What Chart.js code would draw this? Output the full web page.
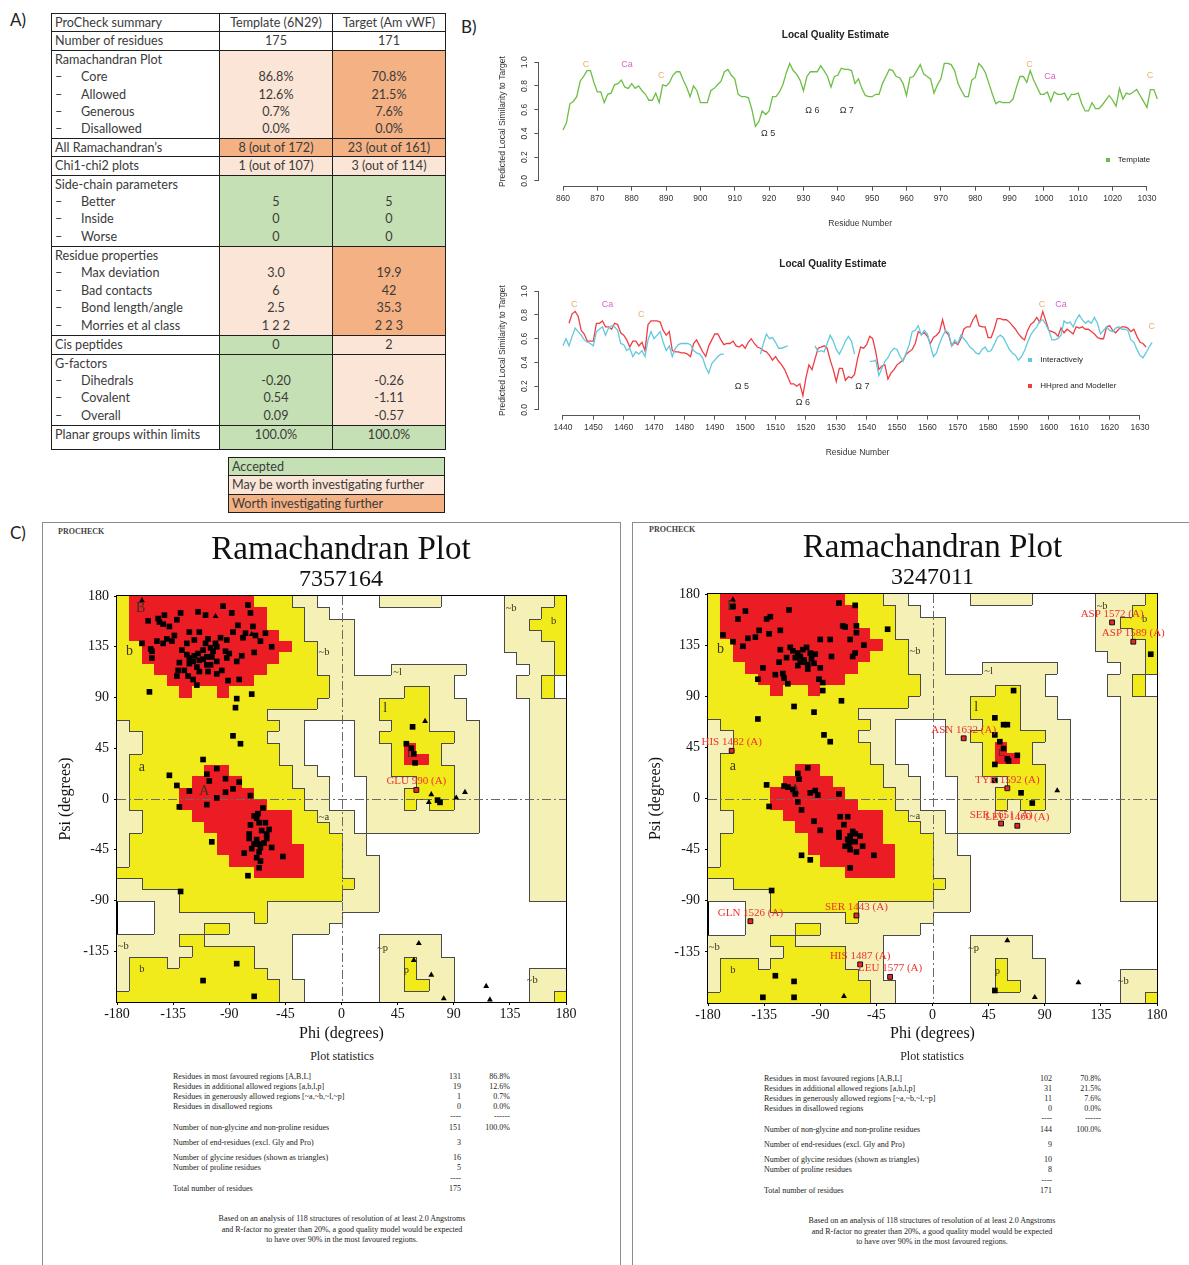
<!DOCTYPE html>
<html>
<head>
<meta charset="utf-8">
<title>ProCheck and local quality summary</title>
<script src="https://cdn.jsdelivr.net/npm/chart.js@4.4.0/dist/chart.umd.min.js"></script>
<style>
  html, body { margin: 0; padding: 0; background: #fff; }
  #page { position: relative; width: 1189px; height: 1265px; overflow: hidden; background: #fff; }
  canvas { position: absolute; }
  .letter { position: absolute; font-family: Lato, 'Open Sans', sans-serif; font-size: 17px; color: #222; line-height: 20px; }
  table.pc { position: absolute; border-collapse: collapse; table-layout: fixed; font-family: Lato, 'Open Sans', sans-serif; font-size: 12.6px; color: #3b3b3b; }
  table.pc td { border: 1.5px solid #1e1e1e; padding: 0 0 0 3px; vertical-align: top; line-height: 17.4px; white-space: nowrap; overflow: hidden; }
  table.pc td.c { text-align: center; padding: 0; }
  table.pc td.m { vertical-align: middle; }
  .gr { background: #C5E0B4; }
  .pe { background: #FBE5D6; }
  .or { background: #F4B183; }
  .d { display: inline-block; width: 26px; }
  .panel { position: absolute; border: 1.5px solid #8c8c8c; box-sizing: border-box; }
  .pcheck { position: absolute; font-family: 'Liberation Serif', serif; font-weight: bold; font-size: 8px; color: #444; }
  .stat { position: absolute; font-family: 'Liberation Serif', serif; font-size: 8px; color: #222; line-height: 10px; white-space: nowrap; }
  .stitle { position: absolute; font-family: 'Liberation Serif', serif; font-size: 12px; color: #222; white-space: nowrap; transform: translate(-50%, -50%); }
  .foot { position: absolute; font-family: 'Liberation Serif', serif; font-size: 8px; color: #222; line-height: 10.5px; text-align: center; white-space: nowrap; transform: translateX(-50%); }
</style>
</head>
<body>
<div id="page">
  <div class="letter" style="left:10px; top:10px;">A)</div>
  <div class="letter" style="left:461px; top:17px;">B)</div>
  <div class="letter" style="left:10px; top:523px;">C)</div>

  <table class="pc" style="left:51px; top:13px; width:394px;">
    <colgroup><col style="width:168px"><col style="width:113px"><col style="width:113px"></colgroup>
    <tr style="height:17.6px"><td class="m">ProCheck summary</td><td class="c m">Template (6N29)</td><td class="c m">Target (Am vWF)</td></tr>
    <tr style="height:17.2px"><td class="m">Number of residues</td><td class="c m">175</td><td class="c m">171</td></tr>
    <tr style="height:88px"><td>Ramachandran Plot<br><span class="d">–</span>Core<br><span class="d">–</span>Allowed<br><span class="d">–</span>Generous<br><span class="d">–</span>Disallowed</td><td class="c pe"><br>86.8%<br>12.6%<br>0.7%<br>0.0%</td><td class="c or"><br>70.8%<br>21.5%<br>7.6%<br>0.0%</td></tr>
    <tr style="height:17.6px"><td class="m">All Ramachandran’s</td><td class="c m or">8 (out of 172)</td><td class="c m or">23 (out of 161)</td></tr>
    <tr style="height:17.3px"><td class="m">Chi1-chi2 plots</td><td class="c m pe">1 (out of 107)</td><td class="c m pe">3 (out of 114)</td></tr>
    <tr style="height:71.4px"><td>Side-chain parameters<br><span class="d">–</span>Better<br><span class="d">–</span>Inside<br><span class="d">–</span>Worse</td><td class="c gr"><br>5<br>0<br>0</td><td class="c gr"><br>5<br>0<br>0</td></tr>
    <tr style="height:89.2px"><td>Residue properties<br><span class="d">–</span>Max deviation<br><span class="d">–</span>Bad contacts<br><span class="d">–</span>Bond length/angle<br><span class="d">–</span>Morries et al class</td><td class="c pe"><br>3.0<br>6<br>2.5<br>1 2 2</td><td class="c or"><br>19.9<br>42<br>35.3<br>2 2 3</td></tr>
    <tr style="height:17.3px"><td class="m">Cis peptides</td><td class="c m gr">0</td><td class="c m pe">2</td></tr>
    <tr style="height:71px"><td>G-factors<br><span class="d">–</span>Dihedrals<br><span class="d">–</span>Covalent<br><span class="d">–</span>Overall</td><td class="c gr"><br>-0.20<br>0.54<br>0.09</td><td class="c pe"><br>-0.26<br>-1.11<br>-0.57</td></tr>
    <tr style="height:24.3px"><td>Planar groups within limits</td><td class="c gr">100.0%</td><td class="c gr">100.0%</td></tr>
  </table>

  <table class="pc" style="left:228px; top:457px; width:217px;">
    <tr style="height:17.4px"><td class="m gr">Accepted</td></tr>
    <tr style="height:17.4px"><td class="m pe">May be worth investigating further</td></tr>
    <tr style="height:17.4px"><td class="m or">Worth investigating further</td></tr>
  </table>

  <canvas id="qTemplate" width="699" height="225" style="left:490px; top:20px;"></canvas>
  <canvas id="qTarget" width="699" height="225" style="left:490px; top:249px;"></canvas>

  <div class="panel" style="left:42px; top:522px; width:579px; height:780px;"></div>
  <div class="panel" style="left:632px; top:522px; width:580px; height:780px;"></div>
  <div class="pcheck" style="left:58px; top:527px;">PROCHECK</div>
  <div class="pcheck" style="left:649px; top:525px;">PROCHECK</div>

  <canvas id="ramaTemplate" width="598" height="525" style="left:42px; top:522px;"></canvas>
  <canvas id="ramaTarget" width="601" height="525" style="left:632px; top:522px;"></canvas>

  <div id="statsLeft"></div>
  <div id="statsRight"></div>
</div>

<script>
// ---------------- Local quality estimate (per-residue scores) ----------------
const templateStart = 860;
const templateScore = [
  0.43, 0.49, 0.65, 0.67, 0.71, 0.84, 0.88, 0.93, 0.93, 0.83,
  0.75, 0.75, 0.66, 0.73, 0.74, 0.81, 0.82, 0.85, 0.79, 0.78,
  0.82, 0.78, 0.80, 0.76, 0.73, 0.68, 0.68, 0.74, 0.66, 0.81,
  0.80, 0.83, 0.89, 0.92, 0.92, 0.85, 0.79, 0.71, 0.80, 0.76,
  0.66, 0.66, 0.66, 0.76, 0.78, 0.81, 0.84, 0.92, 0.94, 0.89,
  0.86, 0.73, 0.71, 0.71, 0.70, 0.60, 0.46, 0.50, 0.59, 0.56,
  0.59, 0.71, 0.71, 0.75, 0.81, 0.91, 0.99, 0.93, 0.90, 0.85,
  0.76, 0.88, 0.92, 0.92, 0.92, 0.97, 0.93, 0.88, 0.79, 0.88,
  0.89, 0.95, 0.94, 0.94, 0.93, 0.82, 0.86, 0.78, 0.72, 0.71,
  0.71, 0.73, 0.73, 0.82, 0.88, 0.94, 0.93, 0.88, 0.87, 0.82,
  0.72, 0.87, 0.88, 0.93, 0.98, 0.90, 0.88, 0.86, 0.74, 0.81,
  0.86, 0.99, 0.99, 0.98, 0.93, 0.82, 0.76, 0.71, 0.71, 0.85,
  0.87, 0.99, 0.96, 0.91, 0.82, 0.73, 0.65, 0.67, 0.66, 0.66,
  0.66, 0.69, 0.79, 0.88, 0.88, 0.83, 0.93, 0.85, 0.79, 0.73,
  0.73, 0.75, 0.67, 0.75, 0.73, 0.73, 0.74, 0.68, 0.73, 0.73,
  0.74, 0.65, 0.59, 0.59, 0.66, 0.61, 0.61, 0.64, 0.68, 0.72,
  0.68, 0.63, 0.78, 0.69, 0.74, 0.73, 0.75, 0.77, 0.72, 0.67,
  0.62, 0.77, 0.77, 0.69
];

const targetStart = 1440;
const interactiveScore = [
  0.54, 0.60, 0.54, 0.62, 0.69, 0.66, 0.63, 0.59, 0.57, 0.56,
  0.54, 0.66, 0.68, 0.70, 0.63, 0.69, 0.71, 0.70, 0.67, 0.56,
  0.55, 0.50, 0.52, 0.45, 0.49, 0.47, 0.50, 0.45, 0.59, 0.66,
  0.60, 0.63, 0.66, 0.57, 0.50, 0.54, 0.45, 0.52, 0.55, 0.56,
  0.56, 0.56, 0.55, 0.50, 0.48, 0.47, 0.44, 0.36, 0.31, 0.39,
  0.42, 0.45, 0.47, 0.47, null, null, null, null, null, null,
  null, null, null, null, null, 0.47, 0.56, 0.64, 0.60, 0.61,
  0.57, 0.52, 0.52, 0.53, 0.54, null, null, null, null, null,
  null, null, null, 0.54, 0.49, 0.50, 0.49, 0.56, 0.63, 0.58,
  0.51, 0.47, 0.52, 0.58, 0.62, 0.58, 0.47, null, null, null,
  null, 0.41, 0.41, 0.42, 0.29, 0.35, 0.41, 0.44, 0.49, 0.52,
  0.51, 0.45, 0.41, 0.48, 0.55, 0.66, 0.67, 0.71, 0.63, 0.67,
  0.64, 0.54, 0.45, 0.48, 0.56, 0.62, 0.67, 0.65, 0.54, 0.59,
  0.56, 0.63, 0.60, 0.57, 0.53, 0.51, 0.48, 0.47, 0.51, 0.53,
  0.49, 0.50, 0.55, 0.61, 0.63, 0.61, 0.56, 0.51, 0.48, 0.46,
  0.42, 0.45, 0.50, 0.57, 0.63, 0.67, 0.70, 0.75, 0.76, 0.72,
  0.67, 0.59, 0.59, 0.60, 0.63, 0.75, 0.73, 0.74, 0.70, 0.76,
  0.80, 0.76, 0.73, 0.75, 0.73, 0.78, 0.73, 0.64, 0.67, 0.70,
  0.67, 0.66, 0.69, 0.70, 0.68, 0.68, 0.67, 0.59, 0.57, 0.51,
  0.46, 0.44, 0.48, 0.53, 0.57
];
const hhpredScore = [
  null, null, 0.73, 0.81, 0.83, 0.79, 0.67, 0.64, 0.58, 0.58,
  0.58, 0.73, 0.73, 0.75, 0.70, 0.70, 0.68, 0.73, 0.72, 0.65,
  0.63, 0.59, 0.53, 0.58, 0.58, 0.54, 0.57, 0.50, 0.72, 0.75,
  0.75, 0.75, 0.74, 0.67, 0.63, 0.66, 0.50, 0.49, 0.49, 0.48,
  0.48, 0.47, 0.45, 0.56, 0.59, 0.54, 0.49, 0.45, 0.54, 0.59,
  0.64, 0.64, 0.59, 0.55, 0.56, 0.56, 0.58, 0.54, 0.53, 0.55,
  0.52, 0.57, 0.60, 0.56, 0.53, 0.52, 0.50, 0.49, 0.46, 0.42,
  0.45, 0.41, 0.38, 0.34, 0.28, 0.22, 0.22, 0.20, 0.22, 0.12,
  0.27, 0.38, 0.34, 0.43, 0.52, 0.53, 0.54, 0.52, 0.42, 0.34,
  0.24, 0.35, 0.35, 0.25, 0.28, 0.27, 0.30, 0.43, 0.53, 0.52,
  0.55, 0.62, 0.60, 0.49, 0.34, 0.37, 0.38, 0.26, 0.31, 0.34,
  0.38, 0.40, 0.42, 0.47, 0.49, 0.51, 0.56, 0.66, 0.64, 0.65,
  0.62, 0.56, 0.61, 0.63, 0.66, 0.76, 0.66, 0.63, 0.54, 0.57,
  0.55, 0.60, 0.68, 0.70, 0.70, 0.76, 0.80, 0.71, 0.70, 0.70,
  0.61, 0.61, 0.68, 0.77, 0.77, 0.76, 0.76, 0.74, 0.71, 0.68,
  0.64, 0.61, 0.59, 0.67, 0.72, 0.74, 0.78, 0.74, 0.83, 0.75,
  0.67, 0.66, 0.65, 0.62, 0.69, 0.65, 0.68, 0.66, 0.64, 0.70,
  0.69, 0.70, 0.68, 0.68, 0.66, 0.64, 0.61, 0.60, 0.60, 0.70,
  0.71, 0.67, 0.65, 0.68, 0.70, 0.70, 0.69, 0.66, 0.68, 0.62,
  0.57, 0.56, 0.53, null, null
];

const templateTicks = [860, 870, 880, 890, 900, 910, 920, 930, 940, 950, 960, 970, 980, 990, 1000, 1010, 1020, 1030];
const targetTicks = [1440, 1450, 1460, 1470, 1480, 1490, 1500, 1510, 1520, 1530, 1540, 1550, 1560, 1570, 1580, 1590, 1600, 1610, 1620, 1630];
const scoreTicks = [0, 0.2, 0.4, 0.6, 0.8, 1.0];

// domain / loop annotations: [text, residue, score]
const templateCys = [['C', 866.7, 0.98], ['C', 888.6, 0.89], ['C', 995.8, 0.98], ['C', 1030.9, 0.89]];
const templateCa = [['Ca', 878.6, 0.98], ['Ca', 1001.8, 0.88]];
const templateLoops = [['Ω 5', 919.7, 0.40], ['Ω 6', 932.6, 0.59], ['Ω 7', 942.6, 0.59]];
const targetCys = [['C', 1443.7, 0.89], ['C', 1465.8, 0.80], ['C', 1597.7, 0.89], ['C', 1633.9, 0.70]];
const targetCa = [['Ca', 1454.7, 0.89], ['Ca', 1604.0, 0.89]];
const targetLoops = [['Ω 5', 1498.9, 0.20], ['Ω 6', 1519.0, 0.06], ['Ω 7', 1538.6, 0.20]];

// ---------------- Ramachandran data: [phi, psi] ----------------
const templateResidues = [
  [-95,171],[-75,172],[-73,165],[-115,166],[-109,163],[-129,165],[-132,159],[-142,163],[-155,158],[-146,157],
  [-143,155],[-134,145],[-140,142],[-148,140],[-160,138],[-153,133],[-143,138],[-136,140],[-122,148],[-114,148],
  [-107,142],[-83,154],[-71,153],[-77,147],[-87,148],[-61,147],[-65,140],[-56,135],[-70,130],[-80,127],
  [-90,129],[-100,122],[-111,124],[-122,120],[-122,125],[-118,127],[-115,129],[-111,132],[-105,134],[-100,135],
  [-103,131],[-108,126],[-114,123],[-119,122],[-131,114],[-132,109],[-123,109],[-119,106],[-116,101],[-107,113],
  [-108,119],[-96,114],[-91,105],[-82,106],[-152,125],[-152,131],[-130,121],[-97,143],[-92,141],[-124,138],
  [-128,132],[-118,141],[-109,138],[-104,126],[-101,138],[-93,131],[-92,125],[-105,119],[-116,117],[-126,114],
  [-100,111],[-114,113],[-84,122],[-124,128],[-138,153],[-147,160],[-79,143],[-69,145],[-88,165],
  [-154,95],[-84,89],[-72,93],[-85,81],[-87,56],[-81,49],
  [-111,35],[-138,21],[-132,12],[-122,7],[-108,22],[-106,16],[-100,27],[-93,18],[-82,15],[-87,9],
  [-93,6],[-100,1],[-73,3],[-130,-7],[-108,-5],[-63,-8],[-70,-15],[-67,-13],[-68,-17],[-73,-23],
  [-66,-21],[-61,-21],[-64,-28],[-60,-31],[-74,-31],[-74,-35],[-68,-36],[-62,-39],[-66,-40],[-65,-43],
  [-56,-43],[-104,-38],[-78,-48],[-66,-47],[-47,-51],[-65,-55],[-66,-61],[-75,-68],[-60,-35],[-70,-40],
  [-58,-27],[-68,-52],[-72,-44],
  [-129,-82],[-84,-146],[-111,-161],[-70,-175],
  [57,64],[52,49],[56,45],[58,40],[59,32],[77,-1],[79,-3]
];
const templateGlycines = [
  [-160,176],[-101,162],[-72,146],[67,69],[72,4],[70,-3],[92,1],[99,6],
  [62,-128],[58,-143],[72,-156],[82,-177],[116,-166],[119,-178]
];
const templateFlagged = [['GLU 990 (A)', 60, 8]];

const targetResidues = [
  [-160,169],[-150,165],[-156,158],[-168,144],[-160,138],[-152,134],[-148,141],[-142,142],[-139,148],[-133,158],
  [-130,160],[-122,148],[-115,166],[-131,145],[-122,131],[-114,133],[-123,120],[-117,124],[-136,115],[-140,105],
  [-126,109],[-120,110],[-119,106],[-116,101],[-108,128],[-104,131],[-106,125],[-103,120],[-100,114],[-108,117],
  [-97,123],[-94,127],[-90,115],[-91,105],[-88,102],[-88,95],[-90,140],[-82,140],[-81,125],[-75,172],
  [-62,170],[-72,152],[-70,151],[-61,152],[-61,146],[-66,140],[-55,135],[-62,128],[-64,125],[-36,149],
  [-73,86],[-111,81],[-95,76],[-140,70],[-87,56],[-82,50],[-103,122],[-100,118],[-98,128],[-106,120],
  [-110,124],[-95,119],[-112,130],[-101,133],
  [-133,12],[-119,11],[-116,10],[-112,8],[-108,22],[-107,17],[-110,4],[-100,27],[-98,5],[-94,7],
  [-92,3],[-75,4],[-131,-7],[-108,-3],[-105,-10],[-95,-20],[-90,-28],[-74,-16],[-71,-23],[-68,-16],
  [-75,-30],[-75,-34],[-66,-33],[-64,-29],[-62,-31],[-58,-33],[-66,-38],[-67,-41],[-66,-45],[-56,-42],
  [-47,-50],[-105,-50],[-98,-54],[-66,-61],[-129,-81],[-62,-38],[-68,-36],[-70,-42],[-61,-47],
  [-126,-156],[-111,-161],[-136,-175],[-111,-175],
  [65,95],[50,71],[57,65],[60,65],[50,56],[54,50],[57,44],[60,35],[61,33],[68,38],
  [50,30],[71,5],[80,-4],[50,16],
  [175,127],[50,-169]
];
const targetGlycines = [[-160,175],[-71,-174],[100,7],[60,-125],[82,-175],[117,-162]];
const targetFlagged = [
  ['HIS 1482 (A)', -161, 42], ['GLN 1526 (A)', -146, -108], ['SER 1443 (A)', -61, -103],
  ['HIS 1487 (A)', -58, -146], ['LEU 1577 (A)', -34, -157], ['ASN 1632 (A)', 25, 53],
  ['TYR 1592 (A)', 60, 9], ['SER 1651 (A)', 55, -22], ['LEU 1460 (A)', 68, -24],
  ['ASP 1572 (A)', 144, 155], ['ASP 1589 (A)', 161, 138]
];
const phiTicks = [-180, -135, -90, -45, 0, 45, 90, 135, 180];
const psiTicks = [-135, -90, -45, 0, 45, 90, 135, 180];

// PROCHECK region map on a 10-degree grid: rows run psi 180 -> -180, columns phi -180 -> 180.
// R = most favoured, Y = additional allowed, L = generously allowed, . = disallowed
const regionMap = [
  'YRRRRRRRRRRYYYLL.....LLLLL.....LLLLY',
  'YRRRRRRRRRRRYYYLL..............LLLYY',
  'YRRRRRRRRRRRYYYLLLL............LLYYY',
  'YRRRRRRRRRRRRYYLLLL............LLLYY',
  'YYRRRRRRRRRRRRYYLLL............LLLLY',
  'YYRRRRRRRRRRRYYYLLL.............LLLY',
  'YYYRRRRRRRRRYYYYLLL...LLLLLL.....LLY',
  'YYYYRRRRRRRYYYYYYLLLLLLLLLL.....LLY',
  'YYYYYRYYRYYYYYYYYLLLLLLYYLL.....LLY',
  'YYYYYYYYYYYYYYYYLLLLLYYYYLLL.....LLL',
  'YYYYYYYYYYYYLLLLLLLLLYYYYLLL.....LLL',
  'LYYYYYYYYYYYYLL....LLLYYYLLLL....LLL',
  'LLYYYYYYYYYYLLL....LLYYYYYYLL....LLL',
  'LLYYYYYYYYYYYLL....LLLYRYYLLL....LLL',
  'LYYYYYYYYYYYYLL....LLLYRRYLLL....LLL',
  'LYYYYYYRRYYYYYLL...LLLYYYYYLL....LLL',
  'LYYYYYRRRRYYYYLLL...LLLLYYYLL....LLL',
  'LYYYYRRRRRRYYYYLL...LLLYYYYLL....LLL',
  'LYYYYRRRRRRRYYYLL...LLLYLYYLL....LLL',
  'LLYYYYRRRRRRRRYYLLL.LLLLLLLLL....LLL',
  'LLYYYYYRRRRRRRYYYLL.LLLLLLLLL....LLL',
  'LYYYYYYYRRRRRRYYYYLL.............LLL',
  'LYYYYYYYRRRRRRRYYYLL.............LLL',
  'LYYYYYYYYRRRRRRYYYLLL............LLL',
  'YYYYYYYYYYYRRRRYYYLLL............LLL',
  'LLYYYYYYYYYYYYYYYYYLL............LLL',
  'LLLLLYYYYYYYYYYYYYLLL............LLL',
  '...LLYYYYYYYLLLLLLLLL...............',
  '...LLLLLLLLYLLLLLL..................',
  '...LLLLYYLLLLLLLL...................',
  'LLLLLYYLLLLLLL.......LLLLL..........',
  'LLLLLLYYYYYLLL.......LLLLL..........',
  'LYYYLYYYYYYLLL.......LLYLLL.........',
  'LYYYYYYYYYYYLL.......LLYLLL......LLL',
  'LYYYYYYYYYYYYLL......LLYYLL......LLL',
  'YYYYYYYYYYYYYLL......LLLLLL......LLY'
];
const majorLabels = [['B', -161, 169], ['b', -170, 131], ['a', -160, 28], ['A', -110, 7], ['l', 35, 80]];
const minorLabels = [
  ['~l', 45, 112], ['~b', -14, 130], ['~a', -14, -16], ['~b', -175, -131], ['b', -160, -151],
  ['~p', 33, -132], ['p', 52, -152], ['~b', 153, -161], ['~b', 136, 169], ['b', 170, 158], ['L', 55, 40]
];

// ---------------- plot statistics ----------------
const statLabels = [
  'Residues in most favoured regions  [A,B,L]',
  'Residues in additional allowed regions  [a,b,l,p]',
  'Residues in generously allowed regions  [~a,~b,~l,~p]',
  'Residues in disallowed regions',
  '',
  'Number of non-glycine and non-proline residues',
  'Number of end-residues (excl. Gly and Pro)',
  'Number of glycine residues (shown as triangles)',
  'Number of proline residues',
  '',
  'Total number of residues'
];
const templateStats = [['131','86.8%'],['19','12.6%'],['1','0.7%'],['0','0.0%'],['----','------'],['151','100.0%'],['3',''],['16',''],['5',''],['----',''],['175','']];
const targetStats = [['102','70.8%'],['31','21.5%'],['11','7.6%'],['0','0.0%'],['----','------'],['144','100.0%'],['9',''],['10',''],['8',''],['----',''],['171','']];
const footnote = [
  'Based on an analysis of 118 structures of resolution of at least 2.0 Angstroms',
  'and R-factor no greater than 20%, a good quality model would be expected',
  'to have over 90% in the most favoured regions.'
];

// =====================================================================
const sans = "'Liberation Sans', Arial, sans-serif";
const serif = "'Liberation Serif', 'Times New Roman', serif";
const COL = { green: '#6DBE45', cyan: '#62C9DD', red: '#EE3E44', cys: '#EDB066', ca: '#D466C3', loop: '#333' };

const toPoints = (start, arr) => arr.map((v, i) => ({ x: start + i, y: v }));

// R-style axis lines that stop at the first and last tick
const rAxisLines = {
  id: 'rAxisLines',
  afterDraw(chart) {
    const { ctx, chartArea: a, scales: { x, y } } = chart;
    const xt = x.ticks, yt = y.ticks;
    ctx.save();
    ctx.strokeStyle = '#555';
    ctx.lineWidth = 1;
    ctx.beginPath();
    ctx.moveTo(x.getPixelForValue(xt[0].value), Math.round(a.bottom) + 0.5);
    ctx.lineTo(x.getPixelForValue(xt[xt.length - 1].value), Math.round(a.bottom) + 0.5);
    ctx.moveTo(Math.round(a.left) - 0.5, y.getPixelForValue(yt[0].value));
    ctx.lineTo(Math.round(a.left) - 0.5, y.getPixelForValue(yt[yt.length - 1].value));
    ctx.stroke();
    ctx.restore();
  }
};

// text annotations and in-plot legend for the quality charts
const qualityMarks = {
  id: 'qualityMarks',
  afterDatasetsDraw(chart, args, o) {
    const { ctx, scales: { x, y } } = chart;
    ctx.save();
    ctx.textAlign = 'center';
    ctx.textBaseline = 'middle';
    ctx.font = '9px ' + sans;
    const put = (list, color) => list.forEach(m => {
      ctx.fillStyle = color;
      ctx.fillText(m[0], x.getPixelForValue(m[1]), y.getPixelForValue(m[2]));
    });
    put(o.cys, COL.cys);
    put(o.ca, COL.ca);
    put(o.loops, COL.loop);
    ctx.font = '8px ' + sans;
    ctx.textAlign = 'left';
    o.legend.forEach(it => {
      const ds = chart.data.datasets[it.dataset];
      const px = x.getPixelForValue(it.x), py = y.getPixelForValue(it.y);
      ctx.fillStyle = ds.borderColor;
      ctx.fillRect(Math.round(px) - 2, Math.round(py) - 2, 4, 4);
      ctx.fillStyle = '#222';
      ctx.fillText(ds.label, px + 10, py);
    });
    ctx.restore();
  }
};

function qualityChart(id, datasets, ticks, xmin, xmax, padRight, marks) {
  return new Chart(document.getElementById(id), {
    type: 'line',
    data: { datasets },
    options: {
      responsive: false, animation: false, devicePixelRatio: 1,
      parsing: false, normalized: true,
      layout: { padding: { left: 0, right: padRight, top: 0, bottom: 0 } },
      elements: { point: { radius: 0 }, line: { borderWidth: 1.3, tension: 0 } },
      plugins: {
        legend: { display: false },
        tooltip: { enabled: false },
        title: { display: true, text: 'Local Quality Estimate', color: '#222',
                 font: { family: sans, size: 10, weight: 'bold' }, padding: { top: 9, bottom: 16.5 } },
        qualityMarks: marks
      },
      scales: {
        x: {
          type: 'linear', min: xmin, max: xmax,
          afterBuildTicks: s => { s.ticks = ticks.map(v => ({ value: v })); },
          afterFit: s => { s.height = 59.3; },
          grid: { display: true, drawOnChartArea: false, drawTicks: true, tickLength: 5, color: '#555' },
          border: { display: false },
          ticks: { font: { family: sans, size: 8.5 }, color: '#333', padding: 3, maxRotation: 0, autoSkip: false,
                   callback: v => String(v) },
          title: { display: true, text: 'Residue Number', color: '#333', font: { family: sans, size: 8.5 }, padding: { top: 0, bottom: 16 } }
        },
        y: {
          type: 'linear', min: -0.04, max: 1.04,
          afterBuildTicks: s => { s.ticks = scoreTicks.map(v => ({ value: v })); },
          afterFit: s => { s.width = 49.3; },
          grid: { display: true, drawOnChartArea: false, drawTicks: true, tickLength: 5, color: '#555' },
          border: { display: false },
          ticks: { font: { family: sans, size: 8.5 }, color: '#333', padding: 4, minRotation: 90, maxRotation: 90,
                   crossAlign: 'center', callback: v => Number(v).toFixed(1) },
          title: { display: true, text: 'Predicted Local Similarity to Target', color: '#333',
                   font: { family: sans, size: 8.5 }, padding: { top: 8, bottom: 0 } }
        }
      }
    },
    plugins: [rAxisLines, qualityMarks]
  });
}

qualityChart('qTemplate',
  [{ label: 'Template', data: toPoints(templateStart, templateScore), borderColor: COL.green, backgroundColor: COL.green, spanGaps: false }],
  templateTicks, 853.1, 1039.9, 8,
  { cys: templateCys, ca: templateCa, loops: templateLoops, legend: [{ dataset: 0, x: 1018.6, y: 0.18 }] });

qualityChart('qTarget',
  [{ label: 'Interactively', data: toPoints(targetStart, interactiveScore), borderColor: COL.cyan, backgroundColor: COL.cyan, spanGaps: false },
   { label: 'HHpred and Modeller', data: toPoints(targetStart, hhpredScore), borderColor: COL.red, backgroundColor: COL.red, spanGaps: false }],
  targetTicks, 1432.2, 1641.8, 13.2,
  { cys: targetCys, ca: targetCa, loops: targetLoops, legend: [{ dataset: 0, x: 1593.9, y: 0.42 }, { dataset: 1, x: 1593.9, y: 0.20 }] });

// ---------------- Ramachandran plots ----------------
const REGION_FILL = { R: '#EC1C24', Y: '#F2EB1C', L: '#F5F1B6' };

const ramaRegions = {
  id: 'ramaRegions',
  beforeDatasetsDraw(chart) {
    const { ctx, scales: { x, y } } = chart;
    const px = v => Math.round(x.getPixelForValue(v));
    const py = v => Math.round(y.getPixelForValue(v));
    ctx.save();
    regionMap.forEach((row, j) => {
      const top = 180 - 10 * j, bot = top - 10;
      for (let c = 0; c < 36; c++) {
        const code = row[c];
        if (!REGION_FILL[code]) continue;
        const l = -180 + 10 * c;
        ctx.fillStyle = REGION_FILL[code];
        ctx.fillRect(px(l), py(top), px(l + 10) - px(l), py(bot) - py(top));
      }
    });
    // dark edges between allowed classes (not around the core)
    ctx.strokeStyle = '#4a4a4a';
    ctx.lineWidth = 1;
    ctx.beginPath();
    const edge = (a, b) => a !== b && a !== 'R' && b !== 'R';
    for (let j = 0; j < 36; j++) {
      const top = 180 - 10 * j, bot = top - 10;
      for (let c = 0; c < 36; c++) {
        const code = regionMap[j][c];
        const l = -180 + 10 * c;
        if (c < 35 && edge(code, regionMap[j][c + 1])) {
          ctx.moveTo(px(l + 10) + 0.5, py(top)); ctx.lineTo(px(l + 10) + 0.5, py(bot));
        }
        if (j < 35 && edge(code, regionMap[j + 1][c])) {
          ctx.moveTo(px(l), py(bot) + 0.5); ctx.lineTo(px(l + 10), py(bot) + 0.5);
        }
      }
    }
    ctx.stroke();
    // dash-dot zero lines
    ctx.setLineDash([9, 3, 2, 3]);
    ctx.strokeStyle = '#6a6a6a';
    ctx.beginPath();
    ctx.moveTo(px(0) + 0.5, py(180)); ctx.lineTo(px(0) + 0.5, py(-180));
    ctx.moveTo(px(-180), py(0) + 0.5); ctx.lineTo(px(180), py(0) + 0.5);
    ctx.stroke();
    ctx.setLineDash([]);
    // region letters
    ctx.fillStyle = '#3a3320';
    ctx.textAlign = 'center';
    ctx.textBaseline = 'middle';
    ctx.font = '14px ' + serif;
    majorLabels.forEach(t => ctx.fillText(t[0], x.getPixelForValue(t[1]), y.getPixelForValue(t[2])));
    ctx.font = '10.5px ' + serif;
    minorLabels.forEach(t => ctx.fillText(t[0], x.getPixelForValue(t[1]), y.getPixelForValue(t[2])));
    ctx.restore();
  }
};

const ramaOverlay = {
  id: 'ramaOverlay',
  afterDatasetsDraw(chart) {
    const { ctx, chartArea: a } = chart;
    ctx.save();
    ctx.strokeStyle = '#000';
    ctx.lineWidth = 1;
    ctx.strokeRect(Math.round(a.left) - 0.5, Math.round(a.top) - 0.5, Math.round(a.right - a.left) + 1, Math.round(a.bottom - a.top) + 1);
    const meta = chart.getDatasetMeta(2);
    const ds = chart.data.datasets[2];
    ctx.fillStyle = '#F0302E';
    ctx.font = '11px ' + serif;
    ctx.textAlign = 'center';
    ctx.textBaseline = 'bottom';
    meta.data.forEach((pt, i) => ctx.fillText(ds.data[i].name, pt.x, pt.y - 3));
    ctx.restore();
  }
};

function ramaChart(id, code, residues, glycines, flagged, layout) {
  return new Chart(document.getElementById(id), {
    type: 'scatter',
    data: {
      datasets: [
        { label: 'Residues', data: residues.map(p => ({ x: p[0], y: p[1] })), pointStyle: 'rect', pointRadius: 4,
          backgroundColor: '#000', borderColor: '#000', borderWidth: 0 },
        { label: 'Glycine', data: glycines.map(p => ({ x: p[0], y: p[1] })), pointStyle: 'triangle', pointRadius: 3.4,
          backgroundColor: '#000', borderColor: '#000', borderWidth: 0 },
        { label: 'Flagged', data: flagged.map(f => ({ x: f[1], y: f[2], name: f[0] })), pointStyle: 'rect', pointRadius: 3.4,
          backgroundColor: '#E8262A', borderColor: '#111', borderWidth: 1 }
      ]
    },
    options: {
      responsive: false, animation: false, devicePixelRatio: 1,
      layout: { padding: 0 },
      plugins: {
        legend: { display: false },
        tooltip: { enabled: false },
        title: { display: true, text: 'Ramachandran Plot', color: '#111',
                 font: { family: serif, size: 33, weight: 'normal', lineHeight: 1 },
                 padding: { top: layout.titleTop, bottom: 0 } },
        subtitle: { display: true, text: code, color: '#111', font: { family: serif, size: 24, weight: 'normal', lineHeight: 1 },
                    padding: { top: 1.5, bottom: 4 } }
      },
      scales: {
        x: {
          type: 'linear', min: -180, max: 180,
          afterBuildTicks: s => { s.ticks = phiTicks.map(v => ({ value: v })); },
          afterFit: s => { s.height = layout.xHeight; },
          grid: { display: true, drawOnChartArea: false, drawTicks: true, tickLength: 3, color: '#000' },
          border: { display: true, color: '#000', width: 1 },
          ticks: { font: { family: serif, size: 14 }, color: '#111', padding: 1, maxRotation: 0, autoSkip: false },
          title: { display: true, text: 'Phi (degrees)', color: '#111', font: { family: serif, size: 16 }, padding: { top: 0, bottom: 3.4 } }
        },
        y: {
          type: 'linear', min: -180, max: 180,
          afterBuildTicks: s => { s.ticks = psiTicks.map(v => ({ value: v })); },
          afterFit: s => { s.width = layout.yWidth; },
          grid: { display: true, drawOnChartArea: false, drawTicks: true, tickLength: 3, color: '#000' },
          border: { display: true, color: '#000', width: 1 },
          ticks: { font: { family: serif, size: 14 }, color: '#111', padding: 5, autoSkip: false },
          title: { display: true, text: 'Psi (degrees)', color: '#111', font: { family: serif, size: 16 }, padding: { top: 14.4, bottom: 0 } }
        },
        // empty right-hand margin so the titles stay centred over the plot frame
        margin: {
          type: 'linear', position: 'right', display: true,
          afterFit: s => { s.width = layout.rightMargin; },
          grid: { display: false }, border: { display: false }, ticks: { display: false }
        }
      }
    },
    plugins: [ramaRegions, ramaOverlay]
  });
}

ramaChart('ramaTemplate', '7357164', templateResidues, templateGlycines, templateFlagged,
  { rightMargin: 74, titleTop: 11.5, xHeight: 45, yWidth: 75 });
ramaChart('ramaTarget', '3247011', targetResidues, targetGlycines, targetFlagged,
  { rightMargin: 76, titleTop: 9.5, xHeight: 44, yWidth: 76 });

// ---------------- statistics blocks ----------------
function statsBlock(holderId, values, g) {
  const holder = document.getElementById(holderId);
  const rowOffsets = [0, 10, 20, 30, 40, 51, 66, 81, 91, 102, 112];
  let html = `<div class="stitle" style="left:${g.center}px; top:${g.titleY}px;">Plot statistics</div>`;
  statLabels.forEach((lab, i) => {
    const y = g.top + rowOffsets[i];
    if (lab) html += `<div class="stat" style="left:${g.left}px; top:${y}px;">${lab}</div>`;
    html += `<div class="stat" style="left:${g.num - 60}px; width:60px; text-align:right; top:${y}px;">${values[i][0]}</div>`;
    if (values[i][1]) html += `<div class="stat" style="left:${g.pct - 60}px; width:60px; text-align:right; top:${y}px;">${values[i][1]}</div>`;
  });
  html += `<div class="foot" style="left:${g.center}px; top:${g.footY}px;">${footnote.join('<br>')}</div>`;
  holder.innerHTML = html;
}
statsBlock('statsLeft', templateStats, { center: 342, titleY: 1056, left: 173, num: 461, pct: 510, top: 1072, footY: 1214 });
statsBlock('statsRight', targetStats, { center: 932, titleY: 1056, left: 764, num: 1052, pct: 1101, top: 1073.5, footY: 1216 });
</script>
</body>
</html>
